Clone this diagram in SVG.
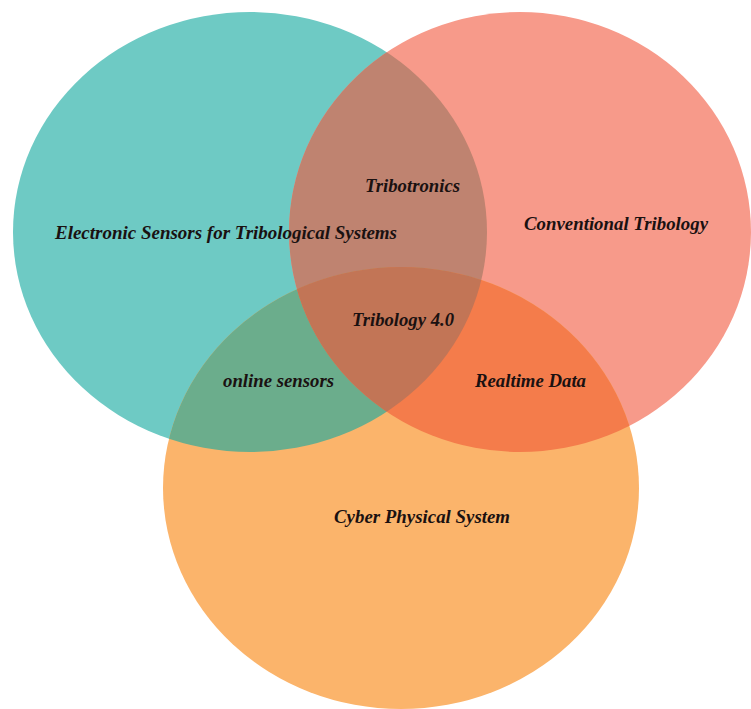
<svg xmlns="http://www.w3.org/2000/svg" width="751" height="709" viewBox="0 0 751 709">
  <style>
    .lbl { font-family: "Liberation Serif", "Times New Roman", serif; font-weight: bold; font-style: italic; font-size: 19px; fill: #1a1111; }
  </style>
  <defs>
    <clipPath id="clipT"><ellipse cx="250" cy="232" rx="237" ry="220"/></clipPath>
    <clipPath id="clipS"><ellipse cx="520" cy="232" rx="231" ry="220"/></clipPath>
    <clipPath id="clipO"><ellipse cx="401" cy="488" rx="238" ry="221"/></clipPath>
  </defs>
  <rect width="751" height="709" fill="#ffffff"/>
  <g id="sets">
    <g id="set-teal"><ellipse cx="250" cy="232" rx="237" ry="220" fill="#6ECAC4"/></g>
    <g id="set-salmon"><ellipse cx="520" cy="232" rx="231" ry="220" fill="#F79A8A"/></g>
    <g id="set-orange"><ellipse cx="401" cy="488" rx="238" ry="221" fill="#FBB46B"/></g>
    <g id="overlap-teal-salmon"><ellipse cx="520" cy="232" rx="231" ry="220" fill="#BF8370" clip-path="url(#clipT)"/></g>
    <g id="overlap-teal-orange"><ellipse cx="401" cy="488" rx="238" ry="221" fill="#6BAD8C" clip-path="url(#clipT)"/></g>
    <g id="overlap-salmon-orange"><ellipse cx="401" cy="488" rx="238" ry="221" fill="#F47C4B" clip-path="url(#clipS)"/></g>
    <g id="overlap-all" clip-path="url(#clipT)"><ellipse cx="401" cy="488" rx="238" ry="221" fill="#C27556" clip-path="url(#clipS)"/></g>
  </g>
  <g id="labels">
    <g id="n-electronic"><text class="lbl" x="55" y="239" textLength="342" lengthAdjust="spacingAndGlyphs">Electronic Sensors for Tribological Systems</text></g>
    <g id="n-conventional"><text class="lbl" x="524" y="230" textLength="184" lengthAdjust="spacingAndGlyphs">Conventional Tribology</text></g>
    <g id="n-tribotronics"><text class="lbl" x="365" y="192" textLength="95" lengthAdjust="spacingAndGlyphs">Tribotronics</text></g>
    <g id="n-tribology40"><text class="lbl" x="352" y="326" textLength="102" lengthAdjust="spacingAndGlyphs">Tribology 4.0</text></g>
    <g id="n-online"><text class="lbl" x="223" y="387" textLength="111" lengthAdjust="spacingAndGlyphs">online sensors</text></g>
    <g id="n-realtime"><text class="lbl" x="475" y="387" textLength="111" lengthAdjust="spacingAndGlyphs">Realtime Data</text></g>
    <g id="n-cps"><text class="lbl" x="334" y="523" textLength="176" lengthAdjust="spacingAndGlyphs">Cyber Physical System</text></g>
  </g>
</svg>
